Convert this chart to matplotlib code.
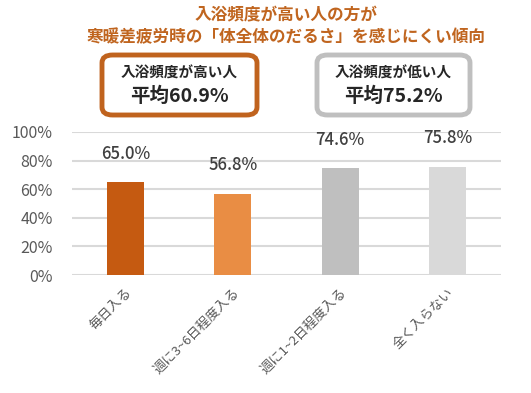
import matplotlib
matplotlib.use("Agg")
import matplotlib.pyplot as plt
from matplotlib.patches import FancyBboxPatch
from matplotlib.ticker import FuncFormatter

plt.rcParams['font.family'] = ['Noto Sans CJK JP', 'DejaVu Sans']

categories = ["毎日入る", "週に3~6日程度入る", "週に1~2日程度入る", "全く入らない"]
values = [65.0, 56.8, 74.6, 75.8]
colors = ["#C55A11", "#E98D44", "#BFBFBF", "#D9D9D9"]
title_lines = ["入浴頻度が高い人の方が", "寒暖差疲労時の「体全体のだるさ」を感じにくい傾向"]
box_titles = ["入浴頻度が高い人", "入浴頻度が低い人"]
box_values = ["平均60.9%", "平均75.2%"]
box_edges = ["#C0631E", "#BFBFBF"]
yticks = [0, 20, 40, 60, 80, 100]

fig = plt.figure(figsize=(5.31, 3.93), dpi=100)
ax = fig.add_axes([72/531, 1-275/393, (501-72)/531, (275-132)/393])

x = range(len(categories))
bars = ax.bar(x, values, width=0.345, color=colors, zorder=3)
ax.set_ylim(0, 100)
ax.set_xlim(-0.5, len(categories)-0.5)
ax.set_yticks(yticks)
ax.yaxis.set_major_formatter(FuncFormatter(lambda v, p: f"{int(v)}%"))
ax.grid(axis='y', color='#D9D9D9', linewidth=1.5, zorder=0)
for s in ax.spines.values():
    s.set_visible(False)
ax.tick_params(axis='both', length=0)
ax.tick_params(axis='y', labelsize=11.5, labelcolor='#595959', pad=14)
ax.set_xticks(list(x))
ax.set_xticklabels(categories, rotation=45, ha='right', rotation_mode='anchor',
                   fontsize=9.5, color='#595959')
ax.tick_params(axis='x', pad=8)

for b, v in zip(bars, values):
    ax.annotate(f"{v:.1f}%", (b.get_x()+b.get_width()/2, v), xytext=(0, 14),
                textcoords='offset points', ha='center', va='bottom',
                fontsize=12, color='#404040', fontweight='medium')

tx = 286/531
fig.text(tx, 1-15/393, title_lines[0], ha='center', va='center', fontsize=12,
         fontweight='bold', color='#C0651F')
fig.text(tx, 1-37/393, title_lines[1], ha='center', va='center', fontsize=12,
         fontweight='bold', color='#C0651F')

box_x = [(102, 257), (317, 470)]
for (x0, x1), t, v, ec in zip(box_x, box_titles, box_values, box_edges):
    y0, y1 = 55, 115
    p = FancyBboxPatch((x0/531, 1-y1/393), (x1-x0)/531, (y1-y0)/393,
                       boxstyle="round,pad=0,rounding_size=0.02",
                       transform=fig.transFigure, facecolor='white', edgecolor=ec,
                       linewidth=3.5, zorder=1)
    fig.patches.append(p)
    cx = (x0+x1)/2/531
    fig.text(cx, 1-73/393, t, ha='center', va='center', fontsize=10.5,
             fontweight='bold', color='#262626')
    fig.text(cx, 1-96/393, v, ha='center', va='center', fontsize=14,
             fontweight='bold', color='#262626')

fig.savefig("out.png", dpi=100, facecolor='white')
